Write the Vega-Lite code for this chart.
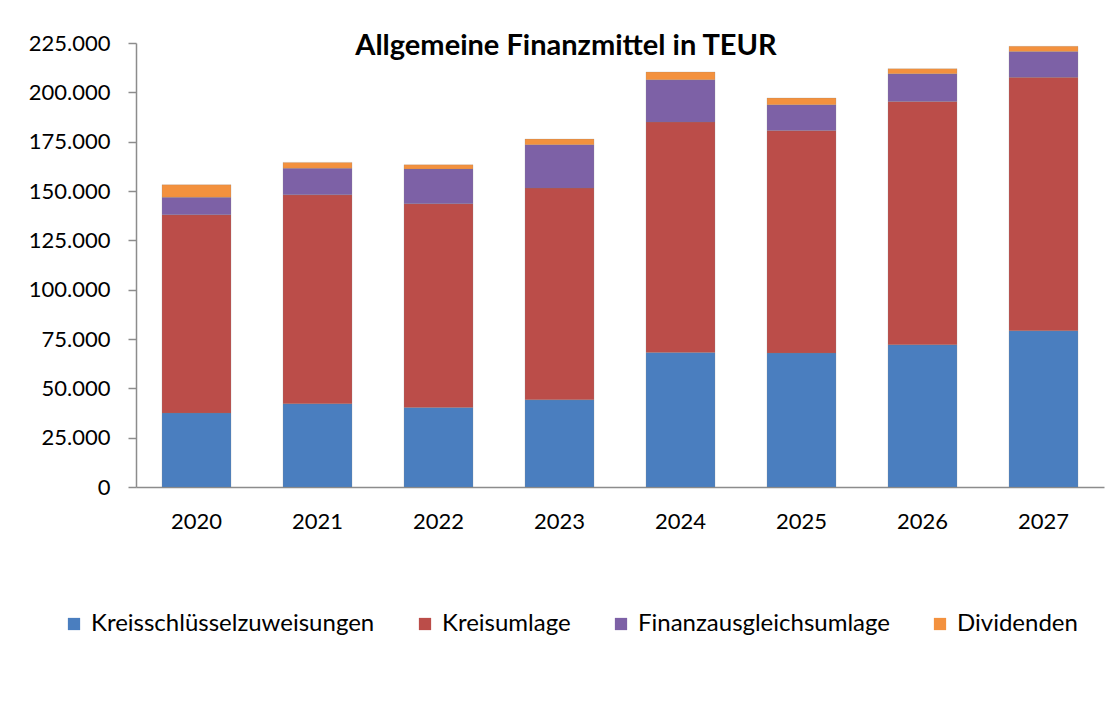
{
  "$schema": "https://vega.github.io/schema/vega-lite/v6.json",
  "autosize": "none",
  "width": 968,
  "height": 444,
  "padding": {"left": 136, "top": 43, "right": 11, "bottom": 224},
  "background": "white",
  "config": {
    "locale": {"number": {"decimal": ",", "thousands": ".", "grouping": [3], "currency": ["", " €"]}},
    "view": {"stroke": null},
    "font": "Lato"
  },
  "title": {
    "text": "Allgemeine Finanzmittel in TEUR",
    "font": "Lato",
    "fontSize": 29,
    "fontWeight": "bold",
    "color": "#000000",
    "anchor": "middle",
    "baseline": "alphabetic",
    "offset": 0,
    "dy": 52,
    "dx": -54
  },
  "data": {
    "values": [
      {"Jahr": "2020", "Art": "Kreisschlüsselzuweisungen", "o": 1, "Wert": 37500},
      {"Jahr": "2020", "Art": "Kreisumlage", "o": 2, "Wert": 100500},
      {"Jahr": "2020", "Art": "Finanzausgleichsumlage", "o": 3, "Wert": 8800},
      {"Jahr": "2020", "Art": "Dividenden", "o": 4, "Wert": 6400},
      {"Jahr": "2021", "Art": "Kreisschlüsselzuweisungen", "o": 1, "Wert": 42200},
      {"Jahr": "2021", "Art": "Kreisumlage", "o": 2, "Wert": 105900},
      {"Jahr": "2021", "Art": "Finanzausgleichsumlage", "o": 3, "Wert": 13400},
      {"Jahr": "2021", "Art": "Dividenden", "o": 4, "Wert": 3000},
      {"Jahr": "2022", "Art": "Kreisschlüsselzuweisungen", "o": 1, "Wert": 40300},
      {"Jahr": "2022", "Art": "Kreisumlage", "o": 2, "Wert": 103300},
      {"Jahr": "2022", "Art": "Finanzausgleichsumlage", "o": 3, "Wert": 17500},
      {"Jahr": "2022", "Art": "Dividenden", "o": 4, "Wert": 2200},
      {"Jahr": "2023", "Art": "Kreisschlüsselzuweisungen", "o": 1, "Wert": 44200},
      {"Jahr": "2023", "Art": "Kreisumlage", "o": 2, "Wert": 107300},
      {"Jahr": "2023", "Art": "Finanzausgleichsumlage", "o": 3, "Wert": 22000},
      {"Jahr": "2023", "Art": "Dividenden", "o": 4, "Wert": 2800},
      {"Jahr": "2024", "Art": "Kreisschlüsselzuweisungen", "o": 1, "Wert": 68200},
      {"Jahr": "2024", "Art": "Kreisumlage", "o": 2, "Wert": 116800},
      {"Jahr": "2024", "Art": "Finanzausgleichsumlage", "o": 3, "Wert": 21400},
      {"Jahr": "2024", "Art": "Dividenden", "o": 4, "Wert": 3900},
      {"Jahr": "2025", "Art": "Kreisschlüsselzuweisungen", "o": 1, "Wert": 67900},
      {"Jahr": "2025", "Art": "Kreisumlage", "o": 2, "Wert": 112700},
      {"Jahr": "2025", "Art": "Finanzausgleichsumlage", "o": 3, "Wert": 13100},
      {"Jahr": "2025", "Art": "Dividenden", "o": 4, "Wert": 3400},
      {"Jahr": "2026", "Art": "Kreisschlüsselzuweisungen", "o": 1, "Wert": 72100},
      {"Jahr": "2026", "Art": "Kreisumlage", "o": 2, "Wert": 123300},
      {"Jahr": "2026", "Art": "Finanzausgleichsumlage", "o": 3, "Wert": 14000},
      {"Jahr": "2026", "Art": "Dividenden", "o": 4, "Wert": 2600},
      {"Jahr": "2027", "Art": "Kreisschlüsselzuweisungen", "o": 1, "Wert": 79200},
      {"Jahr": "2027", "Art": "Kreisumlage", "o": 2, "Wert": 128400},
      {"Jahr": "2027", "Art": "Finanzausgleichsumlage", "o": 3, "Wert": 13100},
      {"Jahr": "2027", "Art": "Dividenden", "o": 4, "Wert": 2600}
    ]
  },
  "mark": {"type": "bar", "stroke": "#7f7f7f", "strokeOpacity": 0.35, "strokeWidth": 0.6},
  "encoding": {
    "x": {
      "field": "Jahr",
      "type": "ordinal",
      "scale": {"paddingInner": 0.43, "paddingOuter": 0.215},
      "axis": {
        "title": null,
        "labelAngle": 0,
        "labelFont": "Lato",
        "labelFontSize": 22,
        "labelColor": "#000000",
        "labelPadding": 24,
        "ticks": false,
        "domainColor": "#8c8c8c",
        "domainWidth": 1.5
      }
    },
    "y": {
      "field": "Wert",
      "type": "quantitative",
      "stack": "zero",
      "scale": {"domain": [0, 225000], "nice": false},
      "axis": {
        "title": null,
        "values": [0, 25000, 50000, 75000, 100000, 125000, 150000, 175000, 200000, 225000],
        "format": ",.0f",
        "labelFont": "Lato",
        "labelFontSize": 22,
        "labelColor": "#000000",
        "labelPadding": 18,
        "tickSize": 8,
        "tickColor": "#8c8c8c",
        "tickWidth": 1.5,
        "domainColor": "#8c8c8c",
        "domainWidth": 1.5,
        "grid": false
      }
    },
    "color": {
      "field": "Art",
      "type": "nominal",
      "scale": {
        "domain": ["Kreisschlüsselzuweisungen", "Kreisumlage", "Finanzausgleichsumlage", "Dividenden"],
        "range": ["#4a7ebf", "#bb4d49", "#7d61a6", "#f3913e"]
      },
      "legend": {
        "title": null,
        "orient": "none",
        "legendX": -74,
        "legendY": 569,
        "direction": "horizontal",
        "columns": 4,
        "columnPadding": 38,
        "padding": 0,
        "symbolType": "square",
        "symbolSize": 150,
        "symbolStrokeWidth": 0,
        "labelFont": "Lato",
        "labelFontSize": 24,
        "labelColor": "#000000",
        "labelOffset": 5,
        "labelLimit": 400
      }
    },
    "order": {"field": "o", "type": "quantitative"}
  }
}
